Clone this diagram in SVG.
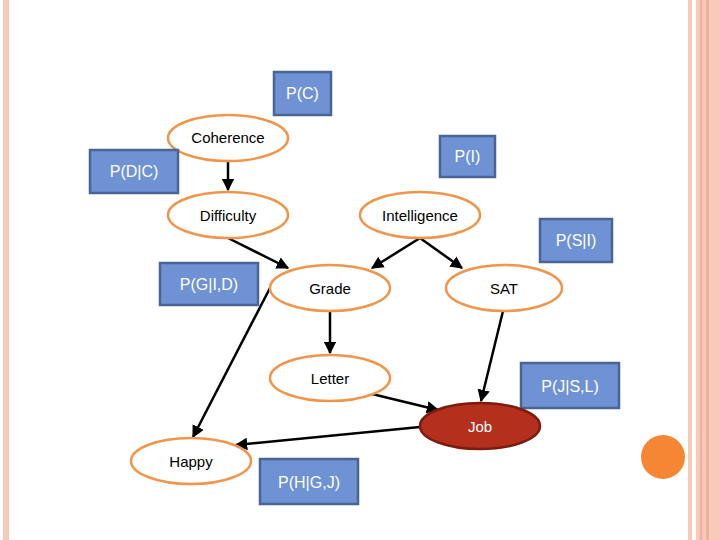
<svg xmlns="http://www.w3.org/2000/svg" width="720" height="540" viewBox="0 0 720 540">
<defs>
<marker id="ah" viewBox="0 0 10 10" refX="9" refY="5" markerWidth="5" markerHeight="5" orient="auto"><path d="M0,0L10,5L0,10z" fill="#000"/></marker>
<style>
.e{fill:#fff;stroke:#f0964c;stroke-width:2.5}
.r{fill:#6f92d4;stroke:#4a6594;stroke-width:2.5}
.t{font-family:"Liberation Sans",Arial,sans-serif;font-size:15px;text-anchor:middle;fill:#000}
.w{font-family:"Liberation Sans",Arial,sans-serif;font-size:16px;text-anchor:middle;fill:#fff}
.c line{stroke:#000;stroke-width:2.5;marker-end:url(#ah)}
</style>
</defs>
<rect width="720" height="540" fill="#fff"/>
<rect x="3" y="0" width="6" height="540" fill="#f8c8b8"/>
<rect x="688" y="0" width="4" height="540" fill="#f8c8b8"/>
<rect x="696" y="0" width="24" height="540" fill="#f8c8b8"/>
<rect x="700" y="0" width="2" height="540" fill="#f0b0a0"/>
<rect x="706" y="0" width="3" height="540" fill="#f0b0a0"/>
<circle cx="663" cy="457" r="22" fill="#f58634"/>
<g class="c">
<line x1="228" y1="161" x2="228" y2="190"/>
<line x1="228" y1="238" x2="288" y2="268"/>
<line x1="420" y1="238" x2="372" y2="268"/>
<line x1="420" y1="238" x2="462" y2="268"/>
<line x1="330" y1="311" x2="330" y2="353"/>
<line x1="503" y1="311" x2="481" y2="401"/>
<line x1="372" y1="394" x2="438" y2="410"/>
<line x1="420" y1="427" x2="236" y2="445"/>
<line x1="270" y1="288" x2="193" y2="437"/>
</g>
<g id="pc"><rect class="r" x="274" y="72" width="57" height="43"/><text class="w" x="302.5" y="99">P(C)</text></g>
<g id="coherence"><ellipse class="e" cx="228" cy="138" rx="60" ry="23"/><text class="t" x="228" y="143">Coherence</text></g>
<g id="pdc"><rect class="r" x="90" y="150" width="88" height="43"/><text class="w" x="134" y="177">P(D|C)</text></g>
<g id="pi"><rect class="r" x="440" y="136" width="55" height="41"/><text class="w" x="467.5" y="162">P(I)</text></g>
<g id="difficulty"><ellipse class="e" cx="228" cy="215" rx="60" ry="23"/><text class="t" x="228" y="221">Difficulty</text></g>
<g id="intelligence"><ellipse class="e" cx="420" cy="215" rx="60" ry="23"/><text class="t" x="420" y="221">Intelligence</text></g>
<g id="psi"><rect class="r" x="540" y="219" width="72" height="43"/><text class="w" x="576" y="246">P(S|I)</text></g>
<g id="pgid"><rect class="r" x="160" y="263" width="98" height="42"/><text class="w" x="209" y="290">P(G|I,D)</text></g>
<g id="grade"><ellipse class="e" cx="330" cy="288" rx="60" ry="23"/><text class="t" x="330" y="294">Grade</text></g>
<g id="sat"><ellipse class="e" cx="504" cy="288" rx="58" ry="23"/><text class="t" x="504" y="294">SAT</text></g>
<g id="letter"><ellipse class="e" cx="330" cy="378" rx="60" ry="23"/><text class="t" x="330" y="384">Letter</text></g>
<g id="pjsl"><rect class="r" x="521" y="363" width="98" height="45"/><text class="w" x="570" y="392">P(J|S,L)</text></g>
<g id="job"><ellipse cx="480" cy="426" rx="60" ry="23" fill="#b5301c" stroke="#7a1c10" stroke-width="2.5"/><text class="t" x="480" y="432" fill="#fff" style="fill:#fff">Job</text></g>
<g id="happy"><ellipse class="e" cx="191" cy="461" rx="60" ry="23"/><text class="t" x="191" y="467">Happy</text></g>
<g id="phgj"><rect class="r" x="260" y="459" width="98" height="45"/><text class="w" x="309" y="488">P(H|G,J)</text></g>
</svg>
